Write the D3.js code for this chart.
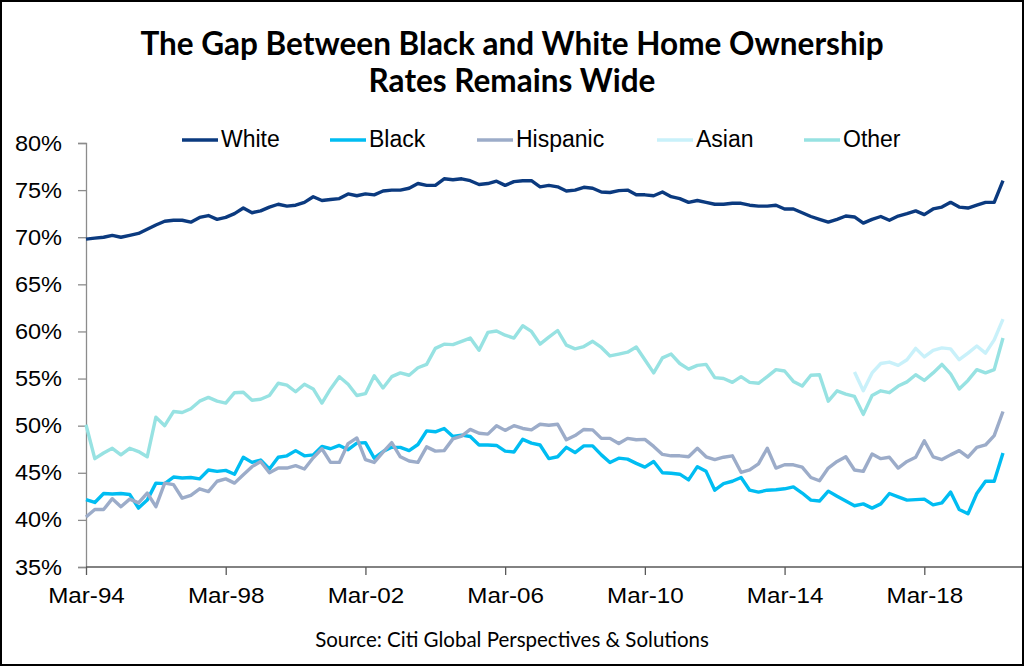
<!DOCTYPE html>
<html>
<head>
<meta charset="utf-8">
<script src="https://cdnjs.cloudflare.com/ajax/libs/d3/7.8.5/d3.min.js"></script>
<style>
  body { margin: 0; background: #fff; }
  svg { display: block; }
</style>
</head>
<body>
<svg width="1024" height="666"></svg>
<script>
// quarterly home ownership rates, Mar-94 .. Jun-20 (%)
const white = [69.8, 69.9, 70.0, 70.2, 70.0, 70.2, 70.4, 70.85, 71.3, 71.7,
  71.8, 71.8, 71.6, 72.1, 72.3, 71.9, 72.1, 72.5, 73.1, 72.6,
  72.8, 73.2, 73.5, 73.3, 73.4, 73.7, 74.3, 73.9, 74.0, 74.1,
  74.6, 74.4, 74.6, 74.5, 74.9, 75.0, 75.0, 75.2, 75.7, 75.5,
  75.5, 76.2, 76.1, 76.2, 76.0, 75.6, 75.7, 75.95, 75.5, 75.9,
  76.0, 76.0, 75.35, 75.5, 75.35, 74.9, 75.0, 75.3, 75.2, 74.8,
  74.75, 74.95, 75.0, 74.5, 74.5, 74.4, 74.8, 74.3, 74.1, 73.7,
  73.9, 73.7, 73.5, 73.5, 73.6, 73.6, 73.4, 73.3, 73.3, 73.4,
  73.0, 73.0, 72.6, 72.2, 71.9, 71.6, 71.9, 72.25, 72.15, 71.5,
  71.9, 72.2, 71.8, 72.25, 72.5, 72.8, 72.4, 73.0, 73.2, 73.7,
  73.2, 73.1, 73.4, 73.7, 73.7, 76.0];

const black = [42.15, 41.85, 42.8, 42.75, 42.8, 42.7, 41.25, 42.1, 43.9, 43.85,
  44.55, 44.45, 44.5, 44.35, 45.3, 45.15, 45.25, 44.85, 46.65, 46.1,
  46.35, 45.4, 46.65, 46.8, 47.35, 46.8, 46.9, 47.8, 47.55, 47.9,
  47.45, 48.15, 48.2, 46.55, 47.25, 47.7, 47.7, 47.35, 48.0, 49.45,
  49.35, 49.7, 48.85, 49.0, 48.85, 47.95, 47.95, 47.9, 47.3, 47.2,
  48.55, 48.15, 47.95, 46.5, 46.7, 47.7, 47.15, 47.85, 47.85, 46.9,
  46.1, 46.55, 46.45, 46.0, 45.6, 46.2, 45.0, 44.95, 44.85, 44.25,
  45.65, 45.15, 43.15, 43.85, 44.1, 44.5, 43.15, 42.95, 43.15, 43.2,
  43.3, 43.5, 42.85, 42.1, 42.0, 43.05, 42.5, 42.0, 41.5, 41.7,
  41.25, 41.7, 42.8, 42.45, 42.1, 42.15, 42.2, 41.6, 41.8, 42.95,
  41.1, 40.65, 42.8, 44.1, 44.1, 47.1];

const hispanic = [40.3, 41.1, 41.1, 42.25, 41.4, 42.2, 41.8, 42.85, 41.4, 43.9,
  43.75, 42.3, 42.6, 43.3, 43.0, 44.1, 44.35, 43.9, 44.8, 45.65,
  46.2, 45.0, 45.5, 45.5, 45.75, 45.4, 46.6, 47.55, 46.1, 46.1,
  48.1, 48.7, 46.4, 46.1, 47.2, 48.2, 46.7, 46.25, 46.1, 47.75,
  47.3, 47.35, 48.6, 48.9, 49.6, 49.2, 49.1, 50.0, 49.5, 50.0,
  49.7, 49.55, 50.15, 50.05, 50.15, 48.5, 48.95, 49.6, 49.55, 48.65,
  48.65, 48.1, 48.65, 48.5, 48.55, 47.8, 46.95, 46.8, 46.8, 46.7,
  47.6, 46.7, 46.4, 46.65, 46.8, 45.05, 45.3, 45.95, 47.6, 45.5,
  45.85, 45.85, 45.6, 44.5, 44.15, 45.5, 46.2, 46.7, 45.3, 45.15,
  47.0, 46.5, 46.65, 45.5, 46.2, 46.65, 48.4, 46.7, 46.4, 46.9,
  47.35, 46.65, 47.7, 47.95, 48.95, 51.5];

// Asian is only reported from Mar-16
const asian = [null, null, null, null, null, null, null, null, null, null,
  null, null, null, null, null, null, null, null, null, null,
  null, null, null, null, null, null, null, null, null, null,
  null, null, null, null, null, null, null, null, null, null,
  null, null, null, null, null, null, null, null, null, null,
  null, null, null, null, null, null, null, null, null, null,
  null, null, null, null, null, null, null, null, null, null,
  null, null, null, null, null, null, null, null, null, null,
  null, null, null, null, null, null, null, null, 55.7, 53.7,
  55.6, 56.6, 56.75, 56.4, 57.0, 58.2, 57.3, 58.0, 58.25, 58.15,
  57.0, 57.7, 58.45, 57.7, 59.1, 61.3];

const other = [50.1, 46.5, 47.1, 47.6, 46.9, 47.6, 47.25, 46.7, 50.9, 50.0,
  51.5, 51.4, 51.8, 52.6, 53.0, 52.6, 52.4, 53.5, 53.55, 52.7,
  52.8, 53.2, 54.5, 54.3, 53.6, 54.4, 53.9, 52.4, 53.9, 55.2,
  54.4, 53.2, 53.4, 55.3, 54.0, 55.2, 55.6, 55.35, 56.15, 56.5,
  58.2, 58.65, 58.6, 58.95, 59.3, 58.0, 59.9, 60.05, 59.6, 59.3,
  60.6, 60.0, 58.65, 59.4, 60.1, 58.55, 58.15, 58.4, 58.95, 58.3,
  57.4, 57.6, 57.8, 58.35, 57.0, 55.6, 57.2, 57.6, 56.6, 56.0,
  56.4, 56.5, 55.1, 55.0, 54.6, 55.2, 54.6, 54.5, 55.2, 55.95,
  55.8, 54.7, 54.2, 55.35, 55.4, 52.6, 53.7, 53.35, 53.1, 51.2,
  53.2, 53.7, 53.5, 54.2, 54.65, 55.4, 54.8, 55.6, 56.5, 55.5,
  53.9, 54.8, 55.95, 55.6, 55.95, 59.3];

const seriesNames = ['White', 'Black', 'Hispanic', 'Asian', 'Other'];
const seriesColors = ['#0b3a7f', '#00bdf2', '#9cacc9', '#c9f1fa', '#97e2e2'];
const yTicks = [35, 40, 45, 50, 55, 60, 65, 70, 75, 80];
const xTickLabels = ['Mar-94', 'Mar-98', 'Mar-02', 'Mar-06', 'Mar-10', 'Mar-14', 'Mar-18'];
const titleLines = ['The Gap Between Black and White Home Ownership', 'Rates Remains Wide'];

const allSeries = [white, black, hispanic, asian, other];
// quarter-end dates for the category axis
const quarters = white.map((_, i) => d3.timeMonth.offset(new Date(1994, 2, 1), i * 3));

const svg = d3.select('svg');

// outer frame
svg.append('rect')
  .attr('x', 1).attr('y', 1)
  .attr('width', 1022).attr('height', 664)
  .attr('fill', '#fff')
  .attr('stroke', '#000')
  .attr('stroke-width', 2);

const x = d3.scaleTime()
  .domain([quarters[0], quarters[quarters.length - 1]])
  .range([86, 1003]);

const y = d3.scaleLinear()
  .domain([35, 80])
  .range([567, 143]);

// title, one text per line
svg.append('g').selectAll('text')
  .data(titleLines)
  .join('text')
  .attr('x', 512)
  .attr('y', (d, k) => 55 + k * 37)
  .attr('text-anchor', 'middle')
  .attr('font-family', 'Lato, sans-serif')
  .attr('font-weight', 'bold')
  .attr('font-size', 31.5)
  .attr('fill', '#000')
  .text(d => d);

// y axis
const yAxis = svg.append('g')
  .attr('transform', 'translate(86,0)')
  .call(d3.axisLeft(y).tickValues(yTicks).tickSize(8).tickFormat(d => d + '%'));
yAxis.select('.domain').attr('stroke', '#8c8c8c').attr('stroke-width', 1.3);
yAxis.selectAll('.tick line').attr('stroke', '#8c8c8c').attr('stroke-width', 1.3);
yAxis.selectAll('.tick text')
  .attr('font-family', 'Liberation Sans, Arial, sans-serif')
  .attr('font-size', 22)
  .attr('fill', '#000')
  .attr('text-anchor', 'end')
  .attr('x', -24 / 1.07)
  .attr('transform', 'scale(1.07,1)');

// x axis
const tickDates = xTickLabels.map((d, k) => quarters[k * 16]);
const xAxis = svg.append('g')
  .attr('transform', 'translate(0,567)')
  .call(d3.axisBottom(x).tickValues(tickDates).tickSize(8).tickPadding(12)
    .tickFormat((d, k) => xTickLabels[k]));
xAxis.select('.domain').remove();
xAxis.append('line')
  .attr('x1', 86).attr('x2', 1022)
  .attr('stroke', '#595959').attr('stroke-width', 1.3);
xAxis.selectAll('.tick line').attr('stroke', '#595959').attr('stroke-width', 1.3);
xAxis.selectAll('.tick text')
  .attr('font-family', 'Liberation Sans, Arial, sans-serif')
  .attr('font-size', 22)
  .attr('fill', '#000')
  .attr('transform', 'scale(1.1,1)');

// lines
const line = d3.line()
  .defined(d => d != null)
  .x((d, i) => x(quarters[i]))
  .y(d => y(d));

svg.append('g').selectAll('path')
  .data(allSeries)
  .join('path')
  .attr('d', line)
  .attr('fill', 'none')
  .attr('stroke', (d, k) => seriesColors[k])
  .attr('stroke-width', 3.4)
  .attr('stroke-linejoin', 'round');

// legend
const legendX = [182, 330, 477, 657, 804];
const legend = svg.append('g').selectAll('g')
  .data(seriesNames)
  .join('g')
  .attr('transform', (d, k) => `translate(${legendX[k]},140)`);
legend.append('line')
  .attr('x1', 0).attr('x2', 36)
  .attr('stroke', (d, k) => seriesColors[k])
  .attr('stroke-width', 3.4);
legend.append('text')
  .attr('x', 39).attr('y', 7)
  .attr('font-family', 'Liberation Sans, Arial, sans-serif')
  .attr('font-size', 23)
  .attr('fill', '#000')
  .text(d => d);

// source
svg.append('text')
  .attr('x', 512).attr('y', 647)
  .attr('text-anchor', 'middle')
  .attr('font-family', 'Lato, sans-serif')
  .attr('font-size', 20.5)
  .attr('fill', '#000')
  .text('Source: Citi Global Perspectives & Solutions');
</script>
</body>
</html>
